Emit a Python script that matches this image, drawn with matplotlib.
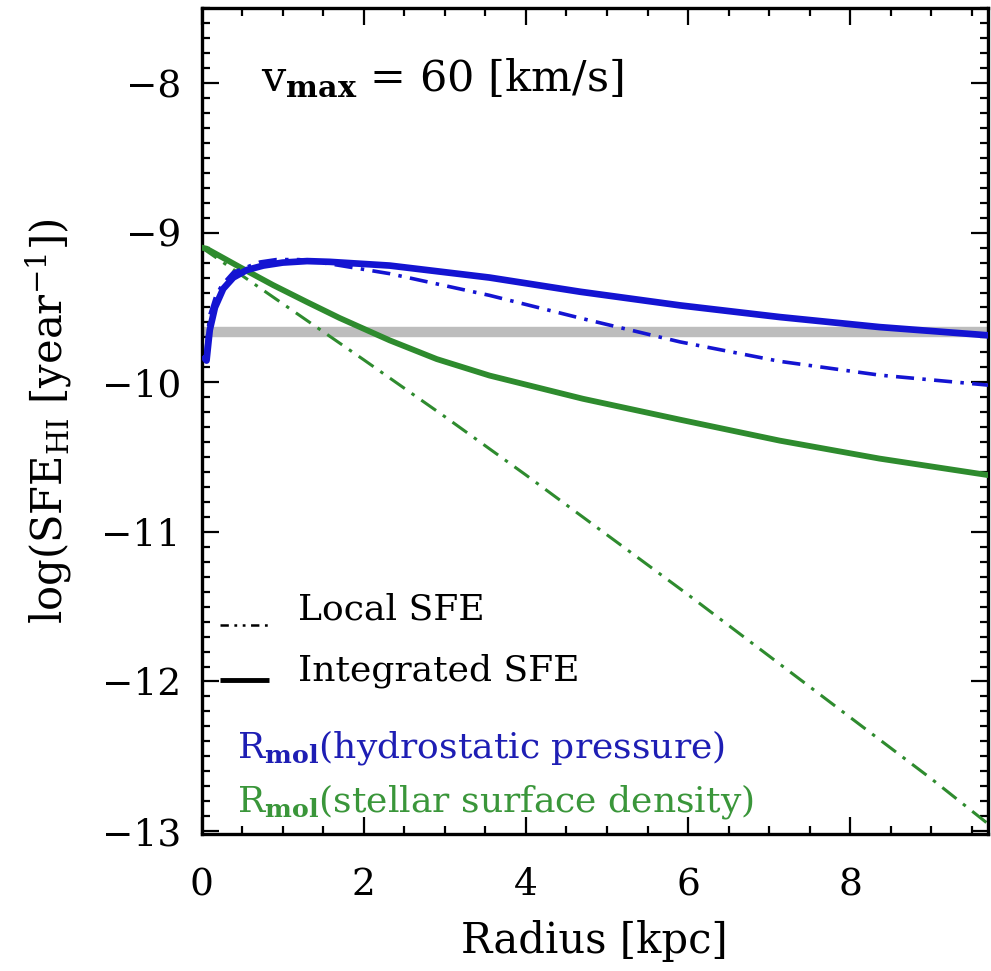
import matplotlib
matplotlib.use("Agg")
import matplotlib.pyplot as plt
from matplotlib.ticker import MultipleLocator

plt.rcParams['font.family'] = ['DejaVu Serif']
plt.rcParams['mathtext.fontset'] = 'dejavuserif'
plt.rcParams['lines.scale_dashes'] = False

# Integrated SFE, R_mol from hydrostatic pressure
r_int_pres = [0.04, 0.06, 0.10, 0.164, 0.266, 0.39, 0.555, 0.76, 1.0, 1.3, 1.58,
              2.32, 3.55, 4.67, 5.9, 7.13, 8.36, 9.72]
sfe_int_pres = [-9.84, -9.855, -9.65, -9.50, -9.375, -9.30, -9.25, -9.22, -9.20, -9.19,
                -9.195, -9.22, -9.30, -9.395, -9.486, -9.564, -9.631, -9.687]

# Local SFE, R_mol from hydrostatic pressure
r_loc_pres = [0.05, 0.10, 0.17, 0.25, 0.39, 0.72, 0.92, 1.2, 1.6, 2.32, 3.55, 4.7,
              5.9, 7.13, 8.36, 9.72]
sfe_loc_pres = [-9.80, -9.55, -9.43, -9.35, -9.265, -9.196, -9.18, -9.18, -9.21,
                -9.274, -9.419, -9.575, -9.73, -9.86, -9.952, -10.02]

# Integrated SFE, R_mol from stellar surface density
r_int_star = [0.0, 0.06, 0.47, 0.88, 1.3, 1.7, 2.32, 2.9, 3.55, 4.7, 5.9, 7.13, 8.36, 9.72]
sfe_int_star = [-9.10, -9.107, -9.23, -9.35, -9.464, -9.57, -9.72, -9.845, -9.955,
                -10.11, -10.25, -10.39, -10.51, -10.622]

# Local SFE, R_mol from stellar surface density
r_loc_star = [0.0, 1.0, 2.0, 3.0, 4.0, 5.0, 6.0, 7.0, 8.0, 9.0, 9.72]
sfe_loc_star = [-9.10, -9.475, -9.85, -10.23, -10.62, -11.02, -11.42, -11.83,
                -12.24, -12.65, -12.96]

# Reference level
ref_level = -9.667
ref_range = [0.0, 9.72]

x_ticks = [0, 2, 4, 6, 8]
y_ticks = [-8, -9, -10, -11, -12, -13]

blue = '#1414d2'
green = '#2e8b2e'
grey = '#bdbdbd'
dashdot = (0, (13, 6, 2.5, 6))

fig = plt.figure(figsize=(9.91, 9.71), dpi=100)
ax = fig.add_axes([0.2035, 0.141, 0.7935, 0.8505])

ax.plot(ref_range, [ref_level, ref_level], color=grey, lw=7.5, solid_capstyle='butt', zorder=1)
ax.plot(r_loc_star, sfe_loc_star, color=green, lw=2.2, linestyle=dashdot, zorder=2)
ax.plot(r_int_star, sfe_int_star, color=green, lw=4.2, zorder=3)
ax.plot(r_loc_pres, sfe_loc_pres, color=blue, lw=2.6, linestyle=dashdot, zorder=4)
ax.plot(r_int_pres, sfe_int_pres, color=blue, lw=4.8, zorder=5)

ax.set_xlim(0, 9.7)
ax.set_ylim(-13.02, -7.5)
ax.set_xticks(x_ticks)
ax.set_yticks(y_ticks)
ax.set_yticklabels(['\u2212' + str(abs(t)) for t in y_ticks])
ax.xaxis.set_minor_locator(MultipleLocator(0.5))
ax.yaxis.set_minor_locator(MultipleLocator(0.1))
ax.tick_params(which='both', direction='in', top=True, right=True, width=1.6, color='black')
ax.tick_params(which='major', length=12, labelsize=27)
ax.tick_params(axis='x', which='major', pad=24)
ax.tick_params(axis='y', which='major', pad=15)
ax.tick_params(which='minor', length=6)
for s in ax.spines.values():
    s.set_linewidth(2.4)

ax.set_xlabel('Radius [kpc]', fontsize=30, labelpad=12)
ax.set_ylabel(r'log(SFE$_{\rm HI}$ [year$^{-1}$])', fontsize=30, labelpad=20)

ax.text(0.075, 0.915, r'v$_{\bf max}$ = 60 [km/s]', transform=ax.transAxes,
        fontsize=31, va='center', ha='left')

# legend entries
ax.plot([0.22, 0.83], [-11.62, -11.62], color='black', lw=1.8, linestyle=(0, (6, 4, 2, 4, 2, 4)))
ax.plot([0.22, 0.83], [-11.99, -11.99], color='black', lw=3.5, solid_capstyle='butt')
ax.text(1.19, -11.52, 'Local SFE', fontsize=26, va='center', ha='left')
ax.text(1.19, -11.93, 'Integrated SFE', fontsize=26, va='center', ha='left')
ax.text(0.43, -12.44, r'R$_{\mathbf{mol}}$(hydrostatic pressure)', fontsize=26,
        va='center', ha='left', color='#1e1eb4')
ax.text(0.43, -12.80, r'R$_{\mathbf{mol}}$(stellar surface density)', fontsize=26,
        va='center', ha='left', color='#3a963a')

fig.savefig('out.png', dpi=100)
